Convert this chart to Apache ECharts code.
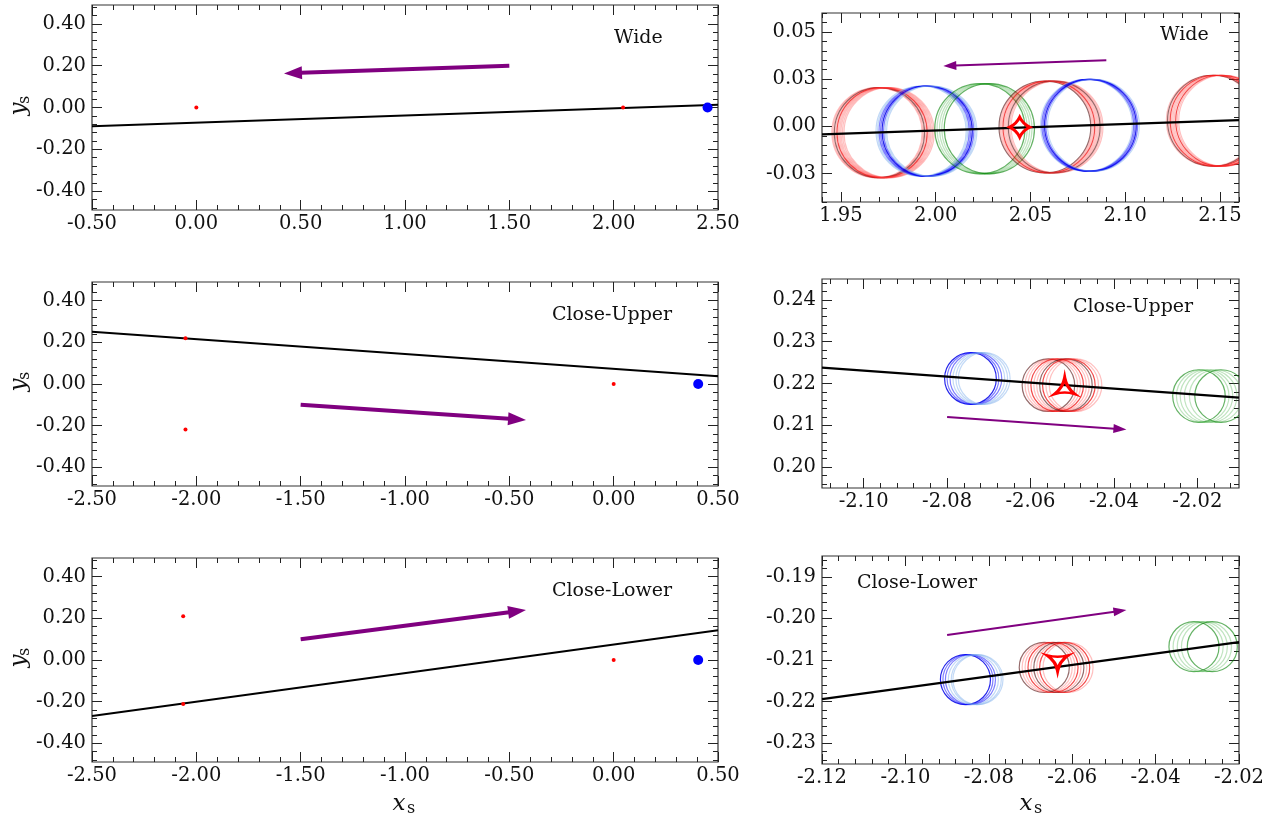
<!DOCTYPE html>
<html>
<head>
<meta charset="utf-8">
<script src="https://cdn.jsdelivr.net/npm/echarts@6/dist/echarts.min.js"></script>
<style>
  html, body { margin: 0; padding: 0; background: #fff; }
  #chart { width: 1283px; height: 819px; }
</style>
</head>
<body>
<div id="chart"></div>
<script>
// ---------------- axis extents ----------------
const fullY = [-0.49, 0.49];
const wideFullX = [-0.5, 2.5];
const closeFullX = [-2.5, 0.5];
const wideZoomX = [1.94, 2.16];
const wideZoomY = [-0.04, 0.06];
const upperZoomX = [-2.11, -2.01];
const upperZoomY = [0.195, 0.245];
const lowerZoomX = [-2.12, -2.02];
const lowerZoomY = [-0.235, -0.185];

// ---------------- labelled (major) ticks ----------------
const fullYTicks = [-0.4, -0.2, 0, 0.2, 0.4];
const wideFullXTicks = [-0.5, 0, 0.5, 1, 1.5, 2, 2.5];
const closeFullXTicks = [-2.5, -2, -1.5, -1, -0.5, 0, 0.5];
const wideZoomXTicks = [1.95, 2.0, 2.05, 2.1, 2.15];
const wideZoomYTicks = [-0.025, 0, 0.025, 0.05];
const upperZoomXTicks = [-2.1, -2.08, -2.06, -2.04, -2.02];
const upperZoomYTicks = [0.2, 0.21, 0.22, 0.23, 0.24];
const lowerZoomXTicks = [-2.12, -2.1, -2.08, -2.06, -2.04, -2.02];
const lowerZoomYTicks = [-0.23, -0.22, -0.21, -0.2, -0.19];

// ---------------- panel titles ----------------
const panelNames = ['Wide', 'Wide', 'Close-Upper', 'Close-Upper', 'Close-Lower', 'Close-Lower'];

// ---------------- critical line (two points per panel) ----------------
const wideFullLine = [[-0.5, -0.0895], [2.5, 0.0135]];
const upperFullLine = [[-2.5, 0.251], [0.5, 0.037]];
const lowerFullLine = [[-2.5, -0.269], [0.5, 0.1425]];
const wideZoomLine = [[1.94, -0.0042], [2.16, 0.0033]];
const upperZoomLine = [[-2.11, 0.2238], [-2.01, 0.2166]];
const lowerZoomLine = [[-2.12, -0.2194], [-2.02, -0.2057]];

// ---------------- source motion arrows [x0, y0, x1, y1] ----------------
const wideFullArrow = [1.5, 0.2, 0.42, 0.163];
const upperFullArrow = [-1.5, -0.1, -0.42, -0.173];
const lowerFullArrow = [-1.5, 0.1, -0.42, 0.24];
const wideZoomArrow = [2.09, 0.035, 2.004, 0.032];
const upperZoomArrow = [-2.08, 0.212, -2.037, 0.209];
const lowerZoomArrow = [-2.09, -0.204, -2.047, -0.198];

// ---------------- point images / lens positions ----------------
const wideRedPts = [[0, 0], [2.045, 0]];
const upperRedPts = [[-2.052, 0.2195], [-2.052, -0.219], [0, 0]];
const lowerRedPts = [[-2.063, 0.21], [-2.063, -0.211], [0, 0]];
const wideBluePts = [[2.45, 0]];
const upperBluePts = [[0.405, 0]];
const lowerBluePts = [[0.405, 0]];

const wideImageMark = [[2.0443, -0.0004]];
const upperImageMark = [[-2.0518, 0.2194]];
const lowerImageMark = [[-2.0635, -0.2107]];

// ---------------- finite-source rings: [x, y, radius, hue, tone] ----------------
// tone: 0 faint, 1 strong, 2 dark
const wideRings = [
  [1.9690, -0.0033, 0.0238, 'red', 0], [1.9696, -0.0033, 0.0238, 'red', 0],
  [1.9703, -0.0033, 0.0238, 'red', 2], [1.9710, -0.0033, 0.0238, 'red', 0],
  [1.9717, -0.0033, 0.0238, 'red', 1], [1.9724, -0.0033, 0.0238, 'red', 0],
  [1.9731, -0.0033, 0.0238, 'red', 0], [1.9738, -0.0033, 0.0238, 'red', 0],
  [1.9746, -0.0033, 0.0238, 'red', 0], [1.9754, -0.0033, 0.0238, 'red', 0],

  [1.9923, -0.0025, 0.0238, 'blue', 0], [1.9931, -0.0025, 0.0238, 'blue', 0],
  [1.9939, -0.0025, 0.0238, 'blue', 1], [1.9947, -0.0025, 0.0238, 'blue', 1],
  [1.9955, -0.0025, 0.0238, 'blue', 2], [1.9963, -0.0025, 0.0238, 'blue', 1],
  [1.9971, -0.0025, 0.0238, 'blue', 0], [1.9979, -0.0025, 0.0238, 'blue', 0],

  [2.0233, -0.0012, 0.0238, 'green', 1], [2.0245, -0.0012, 0.0238, 'green', 0],
  [2.0258, -0.0012, 0.0238, 'green', 0], [2.0270, -0.0012, 0.0238, 'green', 0],
  [2.0283, -0.0012, 0.0238, 'green', 1],

  [2.0576, -0.0003, 0.0242, 'red', 2], [2.0583, -0.0003, 0.0242, 'red', 0],
  [2.0590, -0.0003, 0.0242, 'red', 0], [2.0597, -0.0003, 0.0242, 'red', 1],
  [2.0604, -0.0003, 0.0242, 'red', 0], [2.0611, -0.0003, 0.0242, 'red', 0],
  [2.0618, -0.0003, 0.0242, 'red', 0], [2.0625, -0.0003, 0.0242, 'red', 2],
  [2.0632, -0.0003, 0.0242, 'red', 0], [2.0640, -0.0003, 0.0242, 'red', 0],

  [2.0795, 0.0006, 0.0242, 'blue', 0], [2.0802, 0.0006, 0.0242, 'blue', 1],
  [2.0809, 0.0006, 0.0242, 'blue', 1], [2.0816, 0.0006, 0.0242, 'blue', 2],
  [2.0823, 0.0006, 0.0242, 'blue', 1], [2.0832, 0.0006, 0.0242, 'blue', 0],

  [2.1457, 0.0030, 0.0240, 'red', 0], [2.1463, 0.0030, 0.0240, 'red', 2],
  [2.1470, 0.0030, 0.0240, 'red', 0], [2.1477, 0.0030, 0.0240, 'red', 1],
  [2.1484, 0.0030, 0.0240, 'red', 0], [2.1491, 0.0030, 0.0240, 'red', 0],
  [2.1498, 0.0030, 0.0240, 'red', 0], [2.1506, 0.0030, 0.0240, 'red', 1],
  [2.1514, 0.0030, 0.0240, 'red', 0], [2.1522, 0.0030, 0.0240, 'red', 0]
];

const upperRings = [
  [-2.0744, 0.2212, 0.0062, 'blue', 2], [-2.0738, 0.2212, 0.0062, 'blue', 1],
  [-2.0731, 0.2212, 0.0062, 'blue', 1], [-2.0724, 0.2212, 0.0062, 'blue', 0],
  [-2.0717, 0.2212, 0.0062, 'blue', 0], [-2.0711, 0.2212, 0.0062, 'blue', 0],

  [-2.0557, 0.2196, 0.0063, 'red', 2], [-2.0550, 0.2196, 0.0063, 'red', 0],
  [-2.0543, 0.2196, 0.0063, 'red', 0], [-2.0536, 0.2196, 0.0063, 'red', 1],
  [-2.0529, 0.2196, 0.0063, 'red', 0], [-2.0522, 0.2196, 0.0063, 'red', 0],
  [-2.0515, 0.2196, 0.0063, 'red', 2], [-2.0508, 0.2196, 0.0063, 'red', 1],
  [-2.0500, 0.2196, 0.0063, 'red', 0], [-2.0492, 0.2196, 0.0063, 'red', 0],

  [-2.0196, 0.2170, 0.0063, 'green', 1], [-2.0187, 0.2170, 0.0063, 'green', 0],
  [-2.0178, 0.2170, 0.0063, 'green', 0], [-2.0168, 0.2170, 0.0063, 'green', 0],
  [-2.0156, 0.2170, 0.0063, 'green', 0], [-2.0143, 0.2170, 0.0063, 'green', 1]
];

const lowerRings = [
  [-2.0856, -0.2147, 0.0060, 'blue', 2], [-2.0850, -0.2147, 0.0060, 'blue', 1],
  [-2.0844, -0.2147, 0.0060, 'blue', 1], [-2.0837, -0.2147, 0.0060, 'blue', 0],
  [-2.0830, -0.2147, 0.0060, 'blue', 0], [-2.0826, -0.2147, 0.0060, 'blue', 0],

  [-2.0667, -0.2118, 0.0060, 'red', 2], [-2.0660, -0.2118, 0.0060, 'red', 0],
  [-2.0653, -0.2118, 0.0060, 'red', 0], [-2.0646, -0.2118, 0.0060, 'red', 1],
  [-2.0639, -0.2118, 0.0060, 'red', 0], [-2.0632, -0.2118, 0.0060, 'red', 2],
  [-2.0625, -0.2118, 0.0060, 'red', 0], [-2.0618, -0.2118, 0.0060, 'red', 1],
  [-2.0610, -0.2118, 0.0060, 'red', 0],

  [-2.0308, -0.2068, 0.0060, 'green', 1], [-2.0298, -0.2068, 0.0060, 'green', 0],
  [-2.0288, -0.2068, 0.0060, 'green', 0], [-2.0278, -0.2068, 0.0060, 'green', 0],
  [-2.0264, -0.2068, 0.0060, 'green', 1]
];

// ---------------- styling ----------------
const SERIF = 'DejaVu Serif';
const PURPLE = '#800080';
const ringPalette = {
  red:   ['rgba(255,60,60,0.32)', 'rgba(240,0,0,0.7)', 'rgba(80,10,10,0.6)'],
  blue:  ['rgba(120,170,235,0.45)', 'rgba(0,0,255,0.5)', 'rgba(0,0,230,0.85)'],
  green: ['rgba(60,170,60,0.32)', 'rgba(0,128,0,0.6)', 'rgba(0,80,0,0.75)']
};

// grid rectangles (pixels)
const grids = [
  { left: 92,  top: 5,   width: 626, height: 205 },
  { left: 822, top: 13,  width: 417, height: 189 },
  { left: 92,  top: 282, width: 626, height: 204 },
  { left: 822, top: 279, width: 417, height: 209 },
  { left: 92,  top: 558, width: 626, height: 204 },
  { left: 822, top: 556, width: 417, height: 208 }
];

function minorValues(range, step, majors) {
  const out = [];
  const k0 = Math.ceil(range[0] / step - 1e-6);
  const k1 = Math.floor(range[1] / step + 1e-6);
  for (let k = k0; k <= k1; k++) {
    const v = +(k * step).toFixed(6);
    if (!majors.some(m => Math.abs(m - v) < step * 1e-3)) out.push(v);
  }
  return out;
}

// labelled major axis + minor-tick axis on one side, mirrored on the opposite side
function axesFor(dim, g, range, majors, minorStep) {
  const sides = dim === 'x' ? ['bottom', 'top'] : ['left', 'right'];
  const minors = minorValues(range, minorStep, majors);
  const list = [];
  sides.forEach((pos, si) => {
    [[majors, 10], [minors, 5]].forEach(([vals, len], ti) => {
      list.push({
        type: 'value', gridIndex: g, position: pos,
        min: range[0], max: range[1],
        axisLine: { show: false, onZero: false },
        splitLine: { show: false },
        axisTick: { show: true, inside: true, length: len, customValues: vals,
                    lineStyle: { color: '#222', width: 1 } },
        axisLabel: { show: si === 0 && ti === 0, customValues: majors,
                     formatter: v => v.toFixed(2),
                     fontFamily: SERIF, fontSize: 19.5, color: '#111',
                     margin: dim === 'x' ? 4 : 6 }
      });
    });
  });
  return list;
}

const panels = [
  { x: wideFullX,  y: fullY,      xt: wideFullXTicks,  yt: fullYTicks,      xm: 0.1,   ym: 0.04 },
  { x: wideZoomX,  y: wideZoomY,  xt: wideZoomXTicks,  yt: wideZoomYTicks,  xm: 0.01,  ym: 0.005 },
  { x: closeFullX, y: fullY,      xt: closeFullXTicks, yt: fullYTicks,      xm: 0.1,   ym: 0.04 },
  { x: upperZoomX, y: upperZoomY, xt: upperZoomXTicks, yt: upperZoomYTicks, xm: 0.004, ym: 0.002 },
  { x: closeFullX, y: fullY,      xt: closeFullXTicks, yt: fullYTicks,      xm: 0.1,   ym: 0.04 },
  { x: lowerZoomX, y: lowerZoomY, xt: lowerZoomXTicks, yt: lowerZoomYTicks, xm: 0.004, ym: 0.002 }
];

const xAxes = [], yAxes = [];
panels.forEach((p, g) => {
  xAxes.push(...axesFor('x', g, p.x, p.xt, p.xm));
  yAxes.push(...axesFor('y', g, p.y, p.yt, p.ym));
});

// ---------------- series builders ----------------
function lineSeries(g, pts, width) {
  return { type: 'line', xAxisIndex: 4 * g, yAxisIndex: 4 * g, data: pts,
           symbol: 'none', lineStyle: { color: '#000', width: width }, z: 3, silent: true };
}

function arrowSeries(g, a, w, headL, headW) {
  return {
    type: 'custom', xAxisIndex: 4 * g, yAxisIndex: 4 * g, data: [a],
    encode: { x: [0, 2], y: [1, 3] }, z: 4, silent: true,
    renderItem: (params, api) => {
      const p0 = api.coord([api.value(0), api.value(1)]);
      const p1 = api.coord([api.value(2), api.value(3)]);
      const dx = p1[0] - p0[0], dy = p1[1] - p0[1];
      const L = Math.hypot(dx, dy), ux = dx / L, uy = dy / L;
      const bx = p1[0] - ux * headL, by = p1[1] - uy * headL;
      return { type: 'group', children: [
        { type: 'line', shape: { x1: p0[0], y1: p0[1], x2: bx + ux, y2: by + uy },
          style: { stroke: PURPLE, lineWidth: w } },
        { type: 'polygon', shape: { points: [[p1[0], p1[1]],
            [bx - uy * headW / 2, by + ux * headW / 2],
            [bx + uy * headW / 2, by - ux * headW / 2]] },
          style: { fill: PURPLE } }
      ] };
    }
  };
}

function ringSeries(g, rings) {
  return {
    type: 'custom', xAxisIndex: 4 * g, yAxisIndex: 4 * g,
    data: rings.map(r => [r[0], r[1], r[2]]),
    encode: { x: 0, y: 1 }, z: 2, silent: true, clip: true,
    renderItem: (params, api) => {
      const row = rings[params.dataIndex];
      const c = api.coord([row[0], row[1]]);
      const rr = api.size([row[2], 0])[0];
      return { type: 'circle', shape: { cx: c[0], cy: c[1], r: rr },
               style: { fill: 'none', stroke: ringPalette[row[3]][row[4]], lineWidth: 1.2 } };
    }
  };
}

function dotSeries(g, pts, color, size) {
  return { type: 'scatter', xAxisIndex: 4 * g, yAxisIndex: 4 * g, data: pts,
           symbol: 'circle', symbolSize: size, itemStyle: { color: color, opacity: 1 },
           z: 5, silent: true };
}

function markSeries(g, pts, path, size) {
  return { type: 'scatter', xAxisIndex: 4 * g, yAxisIndex: 4 * g, data: pts,
           symbol: path, symbolSize: size,
           itemStyle: { color: 'rgba(0,0,0,0)', borderColor: '#ff0000', borderWidth: 3, opacity: 1 },
           z: 6, silent: true };
}

const STAR4 = 'path://M10,0 Q13.2,6.8 20,10 Q13.2,13.2 10,20 Q6.8,13.2 0,10 Q6.8,6.8 10,0 Z';
const TRI_UP = 'path://M10,0 Q11.8,9.5 20,16 Q10,13 0,16 Q8.2,9.5 10,0 Z';
const TRI_DOWN = 'path://M0,0 Q10,3 20,0 Q11.8,6.5 10,16 Q8.2,6.5 0,0 Z';

const series = [
  // wide, full view
  lineSeries(0, wideFullLine, 2),
  arrowSeries(0, wideFullArrow, 4, 18, 13),
  dotSeries(0, wideRedPts, '#ff0000', 4),
  dotSeries(0, wideBluePts, '#0000ff', 10),
  // wide, zoom
  ringSeries(1, wideRings),
  lineSeries(1, wideZoomLine, 2.2),
  arrowSeries(1, wideZoomArrow, 2, 13, 9),
  markSeries(1, wideImageMark, STAR4, [20, 20]),
  // close-upper, full view
  lineSeries(2, upperFullLine, 2),
  arrowSeries(2, upperFullArrow, 4, 18, 13),
  dotSeries(2, upperRedPts, '#ff0000', 4),
  dotSeries(2, upperBluePts, '#0000ff', 10),
  // close-upper, zoom
  ringSeries(3, upperRings),
  lineSeries(3, upperZoomLine, 2.2),
  arrowSeries(3, upperZoomArrow, 2, 13, 9),
  markSeries(3, upperImageMark, TRI_UP, [20, 16]),
  // close-lower, full view
  lineSeries(4, lowerFullLine, 2),
  arrowSeries(4, lowerFullArrow, 4, 18, 13),
  dotSeries(4, lowerRedPts, '#ff0000', 4),
  dotSeries(4, lowerBluePts, '#0000ff', 10),
  // close-lower, zoom
  ringSeries(5, lowerRings),
  lineSeries(5, lowerZoomLine, 2.2),
  arrowSeries(5, lowerZoomArrow, 2, 13, 9),
  markSeries(5, lowerImageMark, TRI_DOWN, [21, 15])
];

// ---------------- text: panel names and axis titles ----------------
const namePos = [[614, 38], [1160, 35], [552, 315], [1073, 307], [552, 591], [857, 583]];
const graphics = panelNames.map((t, i) => ({
  type: 'text', x: namePos[i][0], y: namePos[i][1], silent: true,
  style: { text: t, font: '19px "DejaVu Serif"', fill: '#111', align: 'left', verticalAlign: 'middle' }
}));

function yTitle(cy) {
  return { type: 'group', x: 19, y: cy, rotation: Math.PI / 2, silent: true, children: [
    { type: 'text', x: 0, y: 0, style: { text: 'y', font: 'italic 23px "DejaVu Serif"', fill: '#111', align: 'center', verticalAlign: 'middle' } },
    { type: 'text', x: 9, y: 6, style: { text: 's', font: '16px "DejaVu Serif"', fill: '#111', align: 'center', verticalAlign: 'middle' } }
  ] };
}
function xTitle(cx) {
  return { type: 'group', x: cx, y: 804, silent: true, children: [
    { type: 'text', x: -5, y: 0, style: { text: 'x', font: 'italic 23px "DejaVu Serif"', fill: '#111', align: 'center', verticalAlign: 'middle' } },
    { type: 'text', x: 7, y: 5, style: { text: 's', font: '16px "DejaVu Serif"', fill: '#111', align: 'center', verticalAlign: 'middle' } }
  ] };
}
graphics.push(yTitle(109), yTitle(385), yTitle(661), xTitle(404), xTitle(1031));

const chart = echarts.init(document.getElementById('chart'), null, { renderer: 'canvas' });
chart.setOption({
  animation: false,
  backgroundColor: '#fff',
  grid: grids.map(g => Object.assign({ show: true, borderColor: '#333', borderWidth: 1.2,
                                        backgroundColor: 'transparent', containLabel: false }, g)),
  xAxis: xAxes,
  yAxis: yAxes,
  series: series,
  graphic: graphics
});
</script>
</body>
</html>
